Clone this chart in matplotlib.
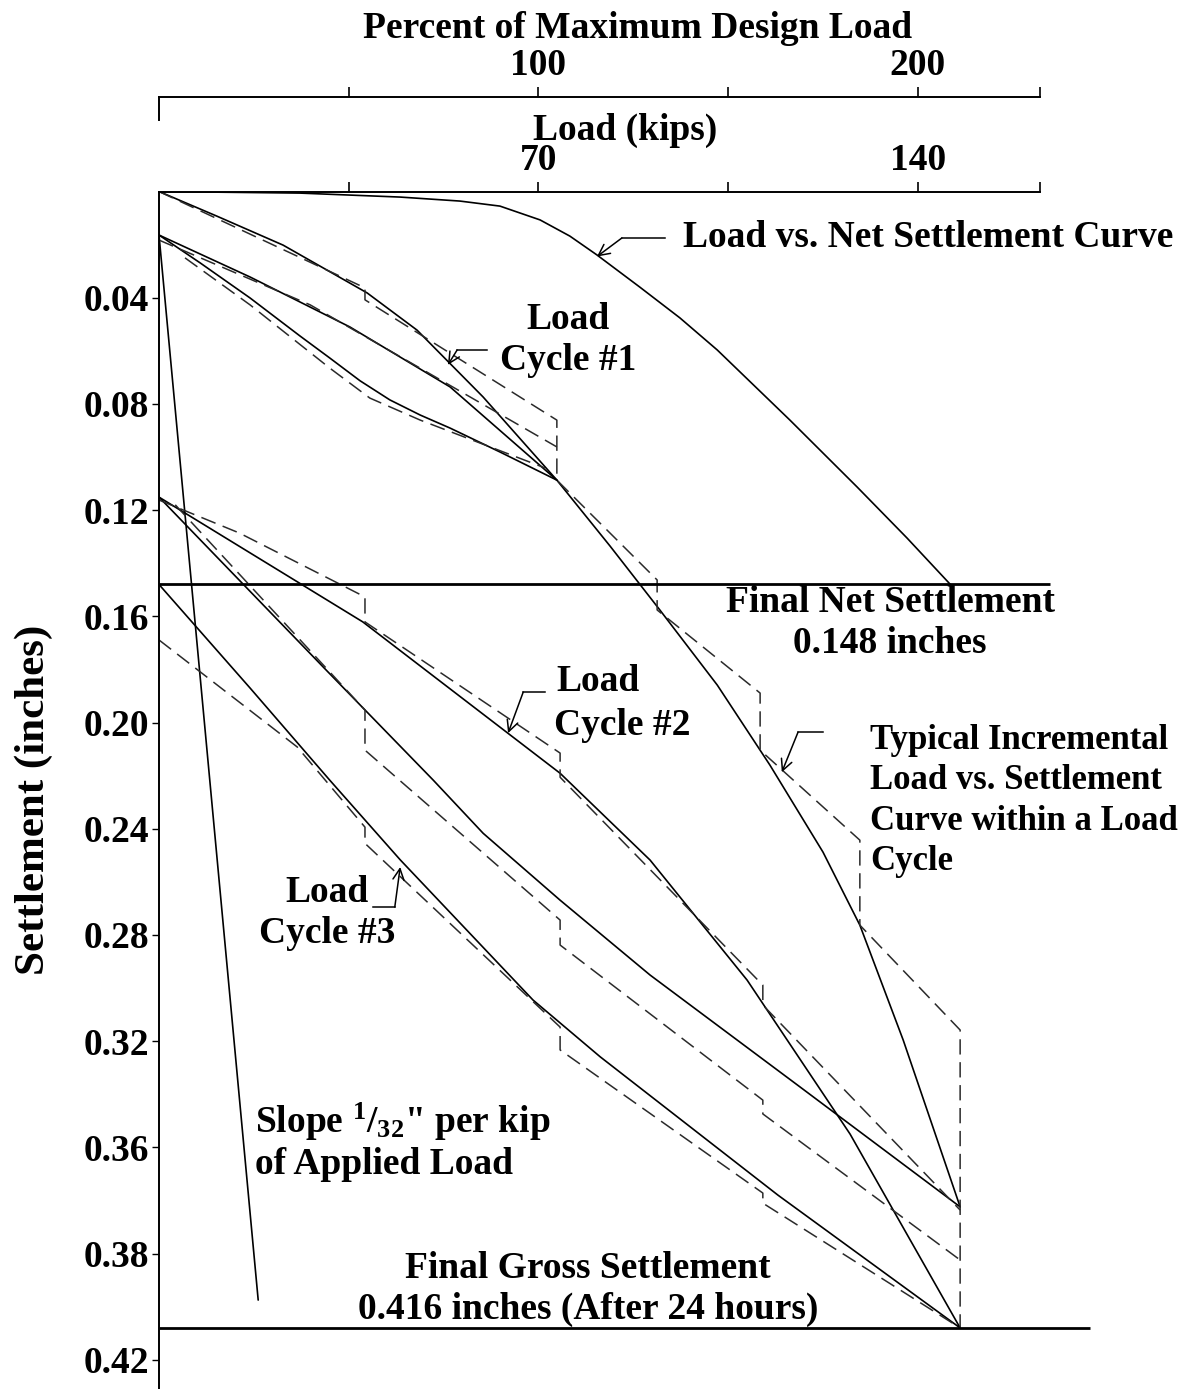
import numpy as np
import matplotlib
matplotlib.use("Agg")
import matplotlib.pyplot as plt

plt.rcParams["font.family"] = ["Liberation Serif", "DejaVu Serif"]
plt.rcParams["font.weight"] = "bold"
plt.rcParams["axes.labelweight"] = "bold"
plt.rcParams["mathtext.fontset"] = "custom"
plt.rcParams["mathtext.rm"] = "Liberation Serif:bold"
plt.rcParams["mathtext.it"] = "Liberation Serif:bold"
plt.rcParams["mathtext.bf"] = "Liberation Serif:bold"

FS = 27

# settlement axis as drawn: the spacing stretches below 0.36 in
scale_val = [-1.0, 0.36, 0.38, 0.416, 0.42, 2.0]
scale_pos = [-1.0, 0.36, 0.40, 0.428, 0.44, 2.02]

y_ticks = [0.04, 0.08, 0.12, 0.16, 0.20, 0.24, 0.28, 0.32, 0.36, 0.38, 0.42]
load_ticks = [35, 70, 105, 140, 162.5]
load_labels = ["", "70", "", "140", ""]
pct_ticks = [50, 100, 150, 200, 232.1]
pct_labels = ["", "100", "", "200", ""]

final_net = 0.148
final_gross = 0.416

# load vs net settlement curve
net_load = [0, 26.0, 44.5, 55.5, 62.9, 70.3, 75.8, 80.8, 88.7, 96.1, 103.0, 116.4,
            128.8, 138.0, 146.0]
net_set = [0, 0.0006, 0.0021, 0.0036, 0.0055, 0.0107, 0.0168, 0.0239, 0.0360, 0.0476,
           0.0597, 0.0861, 0.1113, 0.1305, final_net]

# virgin loading curve, zero -> end of cycle 1 -> end of cycle 2
env_load = [0, 10.7, 22.9, 38.4, 47.6, 59.8, 73.4, 83.2, 92.4, 103.0, 112.7, 122.5,
            129.3, 137.3, 147.8]
env_set = [0, 0.0093, 0.0202, 0.0382, 0.0522, 0.0774, 0.1087, 0.1335, 0.1576, 0.1859,
           0.2160, 0.2488, 0.2763, 0.3196, 0.3712]

# cycle 1 reload / unload loop
c1_up_load = [0, 16.8, 35.2, 53.7, 73.4]
c1_up_set = [0.0164, 0.0322, 0.0510, 0.0736, 0.1087]
c1_dn_load = [0, 7.6, 16.8, 26.0, 31.5, 37.1, 42.6, 48.2, 53.7, 62.9, 73.4]
c1_dn_set = [0.0164, 0.0269, 0.0401, 0.0544, 0.0627, 0.0713, 0.0785, 0.0842, 0.0891,
             0.0981, 0.1087]

# cycle 2 unload
c2_dn_load = [147.8, 118.3, 90.6, 74.0, 59.8, 50.6, 30.3, 0]
c2_dn_set = [0.3712, 0.3373, 0.2951, 0.2669, 0.2417, 0.2217, 0.1791, 0.1151]

# cycle 3 reload and final unload
c3_up_load = [0, 37.6, 74.0, 90.6, 108.5, 127.5, 147.8]
c3_up_set = [0.1151, 0.1621, 0.2191, 0.2518, 0.2970, 0.3550, final_gross]
c3_dn_load = [147.8, 114.2, 81.4, 69.0, 44.5, 31.5, 16.8, 0]
c3_dn_set = [final_gross, 0.3690, 0.3259, 0.3045, 0.2517, 0.2217, 0.1870, final_net]

# elastic reference line
slope_load = [0, 18.3]
slope_set = [0.0164, 0.4025]

# incremental (hold at constant load) curves
inc_env_load = [0, 38.0, 38.0, 73.4, 73.4, 91.9, 91.9, 110.9, 110.9, 129.3, 129.3,
                147.8, 147.8]
inc_env_set = [0, 0.0363, 0.0408, 0.0861, 0.1087, 0.1463, 0.1576, 0.1889, 0.2104,
               0.2443, 0.2763, 0.3158, final_gross]
inc_c1a_load = [0, 27.9, 73.4]
inc_c1a_set = [0.0183, 0.0427, 0.0962]
inc_c1b_load = [4.8, 16.8, 31.5, 38.9, 48.2, 61.1, 71.2]
inc_c1b_set = [0.0250, 0.0427, 0.0665, 0.0778, 0.0861, 0.0962, 0.1041]
inc_c3a_load = [0, 14.8, 38.0, 38.0, 74.0, 74.0, 111.4, 111.4, 147.8]
inc_c3a_set = [0.1162, 0.1286, 0.1527, 0.1621, 0.2115, 0.2206, 0.2989, 0.3064, 0.3718]
inc_c2_load = [3.0, 38.0, 38.0, 74.0, 74.0, 111.4, 111.4, 147.8]
inc_c2_set = [0.1180, 0.1953, 0.2104, 0.2744, 0.2838, 0.3422, 0.3474, 0.3831]
inc_c3b_load = [0, 25.5, 38.0, 38.0, 74.0, 74.0, 111.4, 111.4, 147.8]
inc_c3b_set = [0.1689, 0.2092, 0.2394, 0.2455, 0.3147, 0.3233, 0.3686, 0.3705, final_gross]


def fwd(v):
    return np.interp(v, scale_val, scale_pos)


def inv(p):
    return np.interp(p, scale_pos, scale_val)


fig = plt.figure(figsize=(11.97, 13.89), dpi=100)
ax = fig.add_axes([159 / 1197, 0, 1038 / 1197, 1197.5 / 1389])
ax.set_yscale("function", functions=(fwd, inv))
ax.set_xlim(0, 191.5)
ax.set_ylim(0.431, 0)

ax.spines["right"].set_visible(False)
ax.spines["bottom"].set_visible(False)
ax.spines["left"].set_linewidth(1.4)
ax.spines["top"].set_linewidth(1.4)
ax.spines["top"].set_bounds(0, 162.5)

ax.xaxis.tick_top()
ax.set_xticks(load_ticks)
ax.set_xticklabels(load_labels)
ax.set_yticks(y_ticks)
ax.set_yticklabels(["%.2f" % t for t in y_ticks])
ax.minorticks_off()
ax.tick_params(axis="x", direction="out", length=7, width=1.2, pad=3, labelsize=FS)
ax.tick_params(axis="y", direction="out", length=5, width=1.0, pad=2, labelsize=FS)

ax.xaxis.set_label_position("top")
ax.set_xlabel("Load (kips)", fontsize=FS, fontweight="bold")
ax.xaxis.set_label_coords(0.449, 1.0514)
ax.xaxis.label.set_verticalalignment("center")
ax.set_ylabel("Settlement (inches)", fontsize=31, fontweight="bold")
ax.yaxis.set_label_coords(-0.121, 0.492)
ax.yaxis.label.set_verticalalignment("center")

# percent of design load axis above the load axis
ax2 = fig.add_axes([159 / 1197, (1389 - 120) / 1389, 1038 / 1197, 23 / 1389])
ax2.patch.set_visible(False)
ax2.set_xlim(0, 191.5 * 100 / 70)
ax2.spines["right"].set_visible(False)
ax2.spines["bottom"].set_visible(False)
ax2.spines["top"].set_linewidth(1.4)
ax2.spines["left"].set_linewidth(1.4)
ax2.spines["top"].set_bounds(0, 162.5 * 100 / 70)
ax2.set_yticks([])
ax2.xaxis.tick_top()
ax2.set_xticks(pct_ticks)
ax2.set_xticklabels(pct_labels)
ax2.tick_params(axis="x", direction="out", length=7, width=1.2, pad=3, labelsize=FS)
ax2.xaxis.set_label_position("top")
ax2.set_xlabel("Percent of Maximum Design Load", fontsize=FS, fontweight="bold")
ax2.xaxis.set_label_coords(0.4615, 4.0)
ax2.xaxis.label.set_verticalalignment("center")

solid = dict(color="black", lw=1.2, solid_capstyle="round", solid_joinstyle="round")
dashed = dict(color="#2a2a2a", lw=1.1, linestyle=(0, (10, 5)))

ax.plot(net_load, net_set, **solid)
ax.plot(env_load, env_set, **solid)
ax.plot(c1_up_load, c1_up_set, **solid)
ax.plot(c1_dn_load, c1_dn_set, **solid)
ax.plot(c2_dn_load, c2_dn_set, **solid)
ax.plot(c3_up_load, c3_up_set, **solid)
ax.plot(c3_dn_load, c3_dn_set, **solid)
ax.plot(slope_load, slope_set, **solid)

ax.plot(inc_env_load, inc_env_set, **dashed)
ax.plot(inc_c1a_load, inc_c1a_set, **dashed)
ax.plot(inc_c1b_load, inc_c1b_set, **dashed)
ax.plot(inc_c3a_load, inc_c3a_set, **dashed)
ax.plot(inc_c2_load, inc_c2_set, **dashed)
ax.plot(inc_c3b_load, inc_c3b_set, **dashed)

ax.hlines(final_net, 0, 164.4, color="black", lw=2.0)
ax.hlines(final_gross, 0, 171.8, color="black", lw=2.0)


def pointer(x0, x1, y0, tip):
    ax.plot([x0, x1], [y0, y0], color="black", lw=1.1)
    ax.annotate("", xy=tip, xytext=(x1, y0),
                arrowprops=dict(arrowstyle="->", color="black", lw=1.1,
                                shrinkA=0, shrinkB=0, mutation_scale=20))


pointer(93.4, 85.4, 0.0175, (80.8, 0.0245))
pointer(60.5, 55.0, 0.0597, (53.3, 0.0653))
pointer(71.2, 67.2, 0.1885, (64.4, 0.2040))
pointer(39.5, 43.5, 0.2695, (44.5, 0.2544))
pointer(122.5, 117.9, 0.2036, (114.9, 0.2187))

ax.text(96.7, 0.0175, "Load vs. Net Settlement Curve", fontsize=FS, ha="left", va="center")
ax.text(75.5, 0.056, "Load\nCycle #1", fontsize=FS, ha="center", va="center")
ax.text(134.9, 0.1625, "Final Net Settlement\n0.148 inches", fontsize=FS,
        ha="center", va="center")
ax.text(81.0, 0.1847, "Load", fontsize=FS, ha="center", va="center")
ax.text(85.4, 0.2013, "Cycle #2", fontsize=FS, ha="center", va="center")
ax.text(31.0, 0.2718, "Load\nCycle #3", fontsize=FS, ha="center", va="center")
ax.text(131.2, 0.2296, "Typical Incremental\nLoad vs. Settlement\nCurve within a Load\nCycle",
        fontsize=25, ha="left", va="center", linespacing=1.3)
ax.text(17.7, 0.3505, r'Slope $^{1}/_{32}$" per kip', fontsize=FS, ha="left", va="center")
ax.text(17.7, 0.3633, "of Applied Load", fontsize=FS, ha="left", va="center")
ax.text(79.2, 0.3972, "Final Gross Settlement\n0.416 inches (After 24 hours)",
        fontsize=FS, ha="center", va="center")

fig.savefig("out.png", dpi=100)
